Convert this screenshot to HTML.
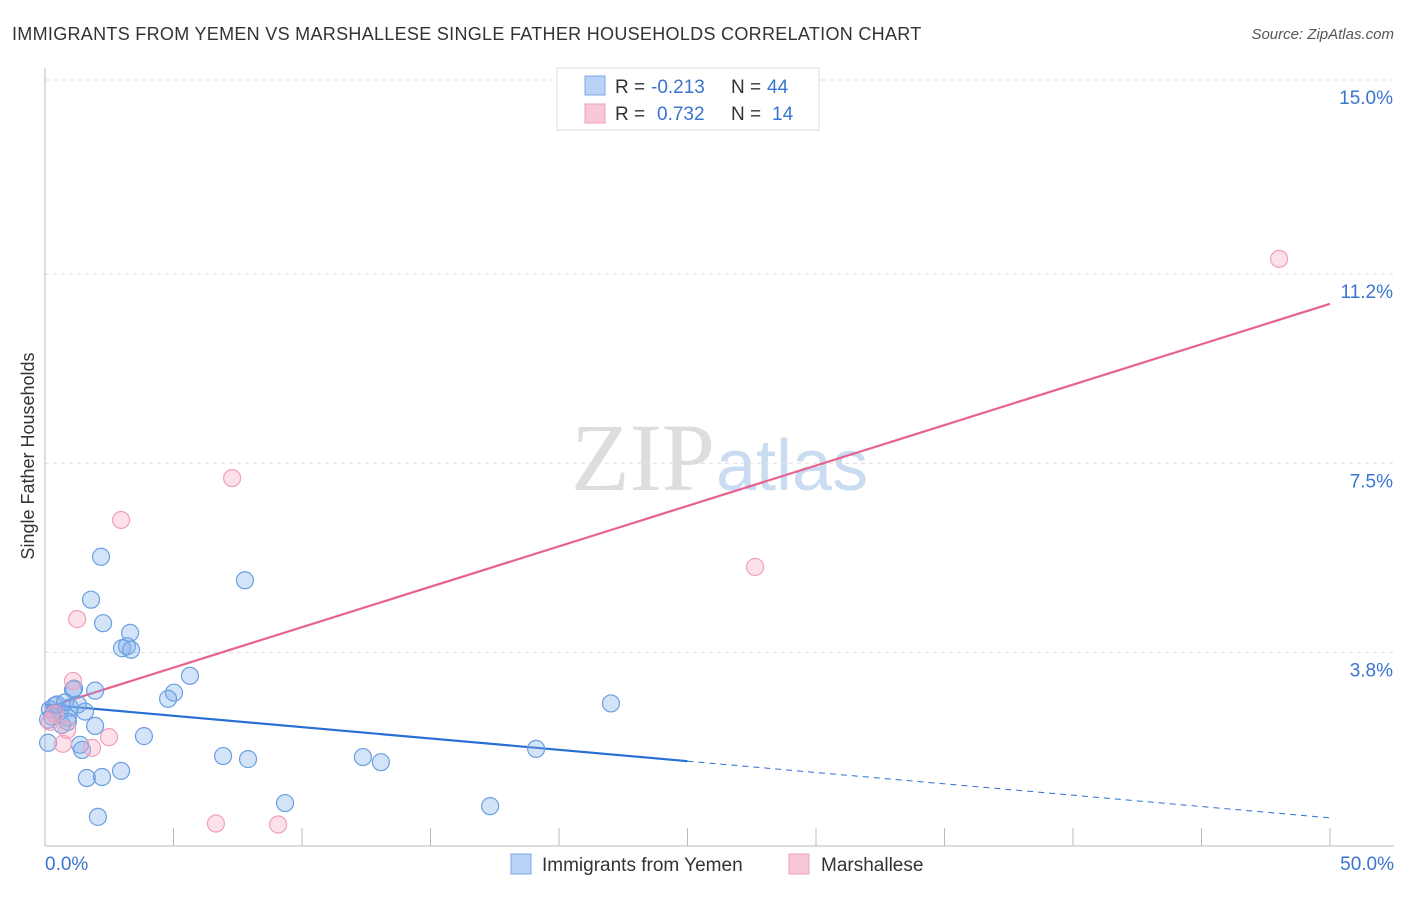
<!DOCTYPE html>
<html><head><meta charset="utf-8"><style>
body{margin:0;background:#fff;font-family:"Liberation Sans",sans-serif}
</style></head><body>
<svg width="1406" height="892" xmlns="http://www.w3.org/2000/svg" id="chart">
<text x="12" y="40" font-size="18" fill="#333" letter-spacing="0.3">IMMIGRANTS FROM YEMEN VS MARSHALLESE SINGLE FATHER HOUSEHOLDS CORRELATION CHART</text>
<text x="1394" y="39" font-size="15" fill="#555" text-anchor="end" font-style="italic">Source: ZipAtlas.com</text>
<text x="34" y="456" font-size="18" fill="#333" text-anchor="middle" transform="rotate(-90 34 456)">Single Father Households</text>
<text x="715" y="490" font-size="96" fill="#ddd" text-anchor="end" font-family="Liberation Serif">ZIP</text>
<text x="716" y="490" font-size="72" fill="#c9dcf2">atlas</text>
<g id="grid"></g><g id="axes"></g><g id="trends"></g><g id="points"></g>
<g>
<rect x="557" y="68" width="262" height="62" fill="#fff" stroke="#ddd"/>
<rect x="585" y="76" width="20" height="19" fill="#b8d3f5" stroke="#7aa8e6"/>
<rect x="585" y="104" width="20" height="19" fill="#f9c8d6" stroke="#f0a0b8"/>
<text x="615" y="93" font-size="19" fill="#333">R =</text>
<text x="651" y="93" font-size="19" fill="#3a74d0">-0.213</text>
<text x="731" y="93" font-size="19" fill="#333">N =</text>
<text x="767" y="93" font-size="19" fill="#3a74d0">44</text>
<text x="615" y="120" font-size="19" fill="#333">R =</text>
<text x="657" y="120" font-size="19" fill="#3a74d0">0.732</text>
<text x="731" y="120" font-size="19" fill="#333">N =</text>
<text x="772" y="120" font-size="19" fill="#3a74d0">14</text>
</g>
<g>
<rect x="511" y="854" width="20" height="20" fill="#b8d3f5" stroke="#7aa8e6"/>
<text x="542" y="871" font-size="19" fill="#333">Immigrants from Yemen</text>
<rect x="789" y="854" width="20" height="20" fill="#f9c8d6" stroke="#f0a0b8"/>
<text x="821" y="871" font-size="19" fill="#333">Marshallese</text>
</g>
</svg>
<script>
const yTicks=[15.0,11.2,7.5,3.8];
const yTickLabels=["15.0%","11.2%","7.5%","3.8%"];
const xTickCount=10;
const yemenX=[2.18,1.79,2.26,3.31,3.00,3.19,3.35,7.78,5.64,5.02,4.79,1.95,1.09,1.13,0.39,0.19,0.58,1.56,0.89,0.66,1.95,0.12,1.36,1.44,3.85,6.93,7.90,12.37,13.07,19.11,22.02,1.63,2.22,2.96,9.34,17.32,2.06,0.27,0.47,0.78,0.12,0.97,1.28,0.89];
const yemenY=[5.67,4.83,4.37,4.18,3.88,3.92,3.85,5.21,3.34,3.01,2.89,3.05,3.07,3.09,2.76,2.68,2.64,2.64,2.52,2.38,2.36,2.03,1.99,1.89,2.16,1.77,1.71,1.75,1.65,1.91,2.80,1.34,1.36,1.48,0.85,0.79,0.58,2.54,2.78,2.82,2.48,2.72,2.78,2.44];
const marshX=[48.02,7.28,2.96,1.25,1.09,27.63,2.49,1.83,0.70,6.65,9.07,0.39,0.19,0.86];
const marshY=[11.50,7.21,6.39,4.45,3.24,5.47,2.14,1.93,2.01,0.45,0.43,2.59,2.44,2.28];
const yemenTrend=[2.78,0.56];
const marshTrend=[2.71,10.62];
const X=v=>45+v*25.7, Y=v=>80+(15-v)*51.1;
const NS="http://www.w3.org/2000/svg";
function mk(p,t,a){const e=document.createElementNS(NS,t);for(const k in a)e.setAttribute(k,a[k]);p.appendChild(e);return e;}
const grid=document.getElementById('grid'),axes=document.getElementById('axes');
yTicks.forEach((v,i)=>{
 const l=mk(grid,'line',{x1:45,x2:1394,y1:Y(v),y2:Y(v),stroke:'#ddd','stroke-dasharray':'4,4'});
 
 
 const t=mk(grid,'text',{x:1393,y:Y(v)+24,'font-size':19,fill:'#3a74d0','text-anchor':'end'});
 t.textContent=yTickLabels[i];
 
 
});
const ya=mk(axes,'line',{x1:45,x2:45,y1:68,y2:846,stroke:'#bbb'});


const xa=mk(axes,'line',{x1:45,x2:1394,y1:846,y2:846,stroke:'#bbb'});


for(let i=1;i<=xTickCount;i++){const xv=i*50/xTickCount;
 const t=mk(axes,'line',{x1:X(xv),x2:X(xv),y1:828,y2:846,stroke:'#bbb'});
 
 }
const x0=mk(axes,'text',{x:45,y:870,'font-size':19,fill:'#3a74d0'});x0.textContent='0.0%';


const x1=mk(axes,'text',{x:1394,y:870,'font-size':19,fill:'#3a74d0','text-anchor':'end'});x1.textContent='50.0%';


const pts=document.getElementById('points');
yemenX.forEach((x,i)=>{const c=mk(pts,'circle',{cx:X(x),cy:Y(yemenY[i]),r:8.5,fill:'rgba(130,175,235,0.35)',stroke:'#6a9fe0','stroke-width':1.2});
 
 });
marshX.forEach((x,i)=>{const c=mk(pts,'circle',{cx:X(x),cy:Y(marshY[i]),r:8.5,fill:'rgba(245,170,195,0.35)',stroke:'#f0a0b8','stroke-width':1.2});
 
 });
const tr=document.getElementById('trends');
const yAt=(t,x)=>t[0]+(t[1]-t[0])*x/50;
const b1=mk(tr,'line',{x1:X(0),y1:Y(yAt(yemenTrend,0)),x2:X(25),y2:Y(yAt(yemenTrend,25)),stroke:'#2a6fd6','stroke-width':2.2});


const b2=mk(tr,'line',{x1:X(25),y1:Y(yAt(yemenTrend,25)),x2:X(50),y2:Y(yAt(yemenTrend,50)),stroke:'#2a6fd6','stroke-width':1,'stroke-dasharray':'6,5'});


const p1=mk(tr,'line',{x1:X(0),y1:Y(marshTrend[0]),x2:X(50),y2:Y(marshTrend[1]),stroke:'#e8628e','stroke-width':2.2});


</script>
</body></html>
